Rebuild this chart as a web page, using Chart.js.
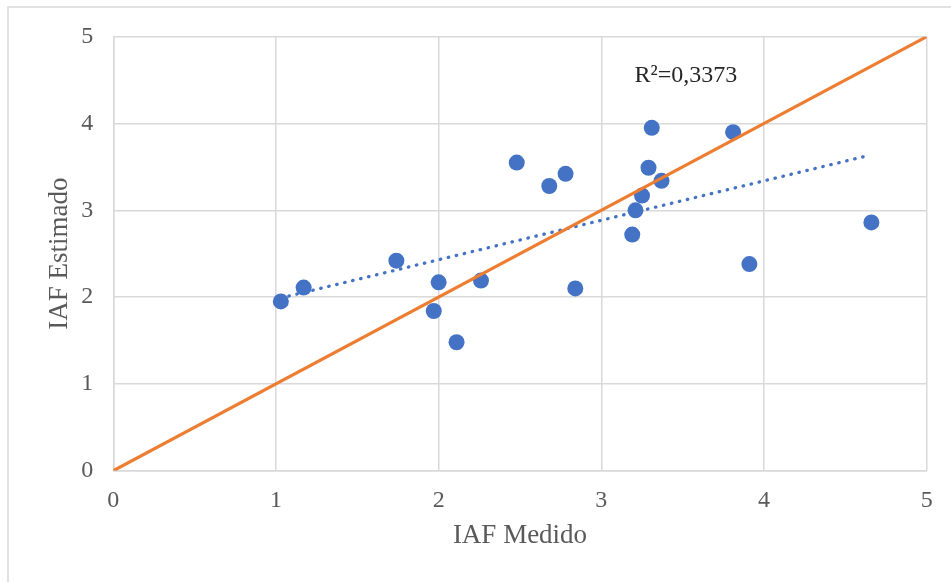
<!DOCTYPE html>
<html>
<head>
<meta charset="utf-8">
<script src="https://cdn.jsdelivr.net/npm/chart.js@4"></script>
<style>
  html, body { margin: 0; padding: 0; background: #fff; overflow: hidden; }
  canvas { display: block; }
</style>
</head>
<body>
<canvas id="scatterChart" width="951" height="582"></canvas>
<script>
/* IAF medido vs estimado */
let medido   = [1.03, 1.17, 1.74, 1.97, 2.00, 2.11, 2.26, 2.48, 2.68, 2.78,
                2.84, 3.19, 3.21, 3.25, 3.29, 3.31, 3.37, 3.81, 3.91, 4.66]
let estimado = [1.95, 2.11, 2.42, 1.84, 2.17, 1.48, 2.19, 3.55, 3.28, 3.42,
                2.10, 2.72, 3.00, 3.17, 3.49, 3.95, 3.34, 3.90, 2.38, 2.86]

/* dotted linear trendline (Excel), end points */
let trendX = [1.03, 4.64]
let trendY = [1.99, 3.63]

/* 1:1 line */
let identX = [0, 5]
let identY = [0, 5]

let ticks = [0, 1, 2, 3, 4, 5]
let r2Label = 'R²=0,3373'

const toPoints = (xs, ys) => xs.map((x, i) => ({ x: x, y: ys[i] }))

const grey = '#595959'
const gridColor = '#D9D9D9'
const serif = "'Liberation Serif', 'Times New Roman', serif"

/* light frame around the whole chart, like the Excel chart area */
const frame = {
    id: 'frame',
    beforeDraw(chart) {
        const c = chart.ctx
        c.save()
        c.strokeStyle = gridColor
        c.lineWidth = 1.5
        c.strokeRect(8, 7, 2000, 2000)
        c.restore()
    }
}

/* R² text next to the trendline */
const r2Text = {
    id: 'r2Text',
    afterDatasetsDraw(chart) {
        const c = chart.ctx
        const xs = chart.scales.x, ys = chart.scales.y
        c.save()
        c.font = '24px ' + serif
        c.fillStyle = '#262626'
        c.textAlign = 'center'
        c.textBaseline = 'middle'
        c.fillText(r2Label, xs.getPixelForValue(3.52), ys.getPixelForValue(4.55))
        c.restore()
    }
}

let ctx = document.querySelector('#scatterChart').getContext('2d')

let dados = {
    datasets: [
        {
            label: 'IAF',
            data: toPoints(medido, estimado),
            backgroundColor: '#4472C4',
            borderWidth: 0,
            pointRadius: 8,
            pointHoverRadius: 8,
            order: 3
        },
        {
            label: 'Tendência',
            type: 'line',
            data: toPoints(trendX, trendY),
            borderColor: '#4472C4',
            borderWidth: 3.3,
            borderDash: [0.5, 7.7],
            borderCapStyle: 'round',
            pointRadius: 0,
            fill: false,
            order: 2
        },
        {
            label: '1:1',
            type: 'line',
            data: toPoints(identX, identY),
            borderColor: '#ED7D31',
            borderWidth: 3.2,
            pointRadius: 0,
            fill: false,
            order: 1
        }
    ]
}

let opcoes = {
    responsive: false,
    animation: false,
    devicePixelRatio: 1,
    layout: { padding: { left: 8, top: 36.7, right: 24.3, bottom: 0 } },
    plugins: {
        legend: { display: false },
        tooltip: { enabled: false }
    },
    scales: {
        x: {
            type: 'linear',
            min: 0, max: 5,
            afterBuildTicks: s => { s.ticks = ticks.map(v => ({ value: v })) },
            afterFit: s => { s.height = 111.3 },
            grid: { color: gridColor, lineWidth: 1.5, drawTicks: false },
            border: { color: gridColor, width: 1.5 },
            ticks: { color: grey, padding: 16, font: { family: serif, size: 24 } },
            title: {
                display: true,
                text: 'IAF Medido',
                color: grey,
                font: { family: serif, size: 27 },
                padding: { top: 0, bottom: 29.8 }
            }
        },
        y: {
            type: 'linear',
            min: 0, max: 5,
            afterBuildTicks: s => { s.ticks = ticks.map(v => ({ value: v })) },
            afterFit: s => { s.width = 105.3 },
            grid: { color: gridColor, lineWidth: 1.5, drawTicks: false },
            border: { color: gridColor, width: 1.5 },
            ticks: { color: grey, padding: 20, font: { family: serif, size: 24 } },
            title: {
                display: true,
                text: 'IAF Estimado',
                color: grey,
                font: { family: serif, size: 27 },
                padding: { top: 35.8, bottom: 0 }
            }
        }
    }
}

let scatterChart = new Chart(ctx, {
    type: 'scatter',
    data: dados,
    options: opcoes,
    plugins: [frame, r2Text]
})
</script>
</body>
</html>
